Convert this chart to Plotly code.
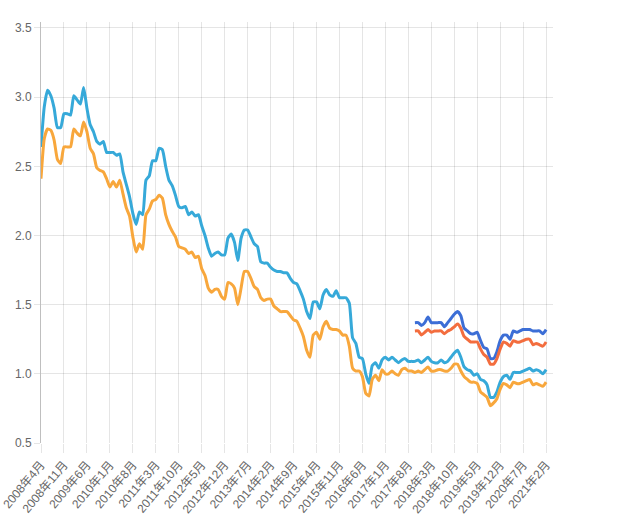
import plotly.graph_objects as go

# monthly categories 2008年4月 .. 2021年2月
months = []
y, m = 2008, 4
while (y, m) <= (2021, 2):
    months.append(f"{y}年{m}月")
    m += 1
    if m > 12:
        m = 1
        y += 1

tick_labels = months[::7]

series_a = [2.64, 2.93, 3.05, 3.01, 2.92, 2.78, 2.78, 2.88, 2.88, 2.87,
            3.01, 2.98, 2.95, 3.07, 2.92, 2.80, 2.75, 2.68, 2.66, 2.68,
            2.60, 2.60, 2.60, 2.58, 2.59, 2.46, 2.37, 2.28, 2.16, 2.08,
            2.17, 2.15, 2.40, 2.43, 2.54, 2.54, 2.63, 2.62, 2.50, 2.40,
            2.36, 2.29, 2.21, 2.20, 2.21, 2.15, 2.17, 2.14, 2.15, 2.07,
            2.00, 1.91, 1.85, 1.87, 1.88, 1.86, 1.86, 1.98, 2.01, 1.95,
            1.82, 1.98, 2.04, 2.04, 1.99, 1.94, 1.92, 1.81, 1.80, 1.80,
            1.77, 1.75, 1.74, 1.74, 1.73, 1.73, 1.69, 1.66, 1.65, 1.60,
            1.54, 1.45, 1.40, 1.52, 1.52, 1.47, 1.57, 1.61, 1.57, 1.56,
            1.60, 1.55, 1.55, 1.55, 1.51, 1.26, 1.22, 1.12, 1.11, 1.00,
            0.93, 1.06, 1.08, 1.04, 1.10, 1.12, 1.10, 1.12, 1.10, 1.08,
            1.10, 1.11, 1.09, 1.09, 1.09, 1.10, 1.08, 1.10, 1.12, 1.09,
            1.08, 1.08, 1.10, 1.08, 1.09, 1.12, 1.15, 1.17, 1.12, 1.05,
            1.03, 1.02, 0.99, 1.00, 0.96, 0.95, 0.92, 0.83, 0.83, 0.87,
            0.94, 0.98, 0.99, 0.96, 1.01, 1.01, 1.01, 1.02, 1.03, 1.04,
            1.02, 1.03, 1.02, 1.00, 1.03]

series_b = [2.41, 2.70, 2.77, 2.76, 2.69, 2.55, 2.52, 2.64, 2.64, 2.64,
            2.77, 2.74, 2.72, 2.82, 2.75, 2.63, 2.59, 2.49, 2.47, 2.46,
            2.41, 2.35, 2.39, 2.35, 2.40, 2.30, 2.20, 2.14, 1.99, 1.88,
            1.94, 1.90, 2.15, 2.19, 2.25, 2.26, 2.29, 2.27, 2.15, 2.08,
            2.03, 1.99, 1.92, 1.91, 1.90, 1.87, 1.88, 1.84, 1.85, 1.76,
            1.71, 1.62, 1.59, 1.61, 1.61, 1.56, 1.54, 1.66, 1.65, 1.62,
            1.50, 1.62, 1.74, 1.74, 1.69, 1.63, 1.61, 1.55, 1.53, 1.54,
            1.54, 1.49, 1.47, 1.45, 1.45, 1.45, 1.42, 1.39, 1.38, 1.33,
            1.27, 1.17, 1.12, 1.28, 1.30, 1.25, 1.34, 1.38, 1.33, 1.32,
            1.32, 1.31, 1.28, 1.28, 1.20, 1.04, 1.02, 1.02, 0.98, 0.86,
            0.84, 0.96, 0.99, 0.95, 1.03, 1.00, 1.00, 1.02, 1.00, 0.99,
            1.03, 1.04, 1.02, 1.02, 1.01, 1.02, 1.01, 1.03, 1.05, 1.02,
            1.02, 1.03, 1.03, 1.02, 1.02, 1.04, 1.07, 1.07, 1.02, 0.98,
            0.96, 0.94, 0.94, 0.93, 0.87, 0.85, 0.83, 0.77, 0.79, 0.82,
            0.89, 0.93, 0.92, 0.90, 0.94, 0.93, 0.93, 0.94, 0.95, 0.96,
            0.92, 0.93, 0.92, 0.91, 0.94]

# series starting at 2018年2月 (index 114)
late_start = 114
series_c = [1.37, 1.37, 1.35, 1.37, 1.41, 1.37, 1.37, 1.37, 1.37, 1.34,
            1.37, 1.40, 1.43, 1.45, 1.42, 1.33, 1.31, 1.29, 1.29, 1.30,
            1.24, 1.19, 1.18, 1.11, 1.11, 1.16, 1.24, 1.28, 1.28, 1.25,
            1.31, 1.30, 1.31, 1.32, 1.32, 1.32, 1.31, 1.31, 1.31, 1.29,
            1.32]

series_d = [1.31, 1.31, 1.28, 1.30, 1.32, 1.30, 1.31, 1.31, 1.31, 1.29,
            1.31, 1.32, 1.34, 1.36, 1.33, 1.27, 1.25, 1.23, 1.23, 1.23,
            1.18, 1.14, 1.12, 1.07, 1.07, 1.11, 1.18, 1.23, 1.22, 1.20,
            1.24, 1.23, 1.23, 1.24, 1.25, 1.25, 1.21, 1.22, 1.21, 1.20,
            1.23]

late_months = months[late_start:late_start + len(series_c)]

font_family = "Liberation Sans, Arial, Noto Sans CJK SC, sans-serif"

fig = go.Figure()

def add_line(xs, ys, color):
    fig.add_trace(go.Scatter(
        x=xs, y=ys, mode="lines",
        line=dict(color=color, width=3, shape="spline", smoothing=0.5),
        hoverinfo="x+y", showlegend=False,
    ))

add_line(months, series_a, "#36a9d9")
add_line(months, series_b, "#f8a73c")
add_line(late_months, series_c, "#3c6ed6")
add_line(late_months, series_d, "#f36d3e")

fig.update_layout(
    width=618, height=522,
    margin=dict(l=41, r=65, t=22, b=79),
    paper_bgcolor="white", plot_bgcolor="white",
    font=dict(family=font_family, size=12, color="#666666"),
    showlegend=False,
)

fig.update_xaxes(
    type="category",
    categoryorder="array", categoryarray=months,
    range=[0, 156.1],
    tickmode="array", tickvals=tick_labels, ticktext=tick_labels,
    tickangle=-50,
    automargin=False,
    showgrid=True, gridcolor="rgba(0,0,0,0.1)", gridwidth=1,
    ticks="outside", ticklen=9, tickcolor="rgba(0,0,0,0.1)",
    showline=False, zeroline=False,
    tickfont=dict(size=12, color="#666666"),
)

fig.update_yaxes(
    range=[0.5, 3.543],
    tickmode="array", tickvals=[0.5, 1.0, 1.5, 2.0, 2.5, 3.0, 3.5],
    ticktext=["0.5", "1.0", "1.5", "2.0", "2.5", "3.0", "3.5"],
    automargin=False,
    showgrid=True, gridcolor="rgba(0,0,0,0.1)", gridwidth=1,
    ticks="outside", ticklen=6, tickcolor="rgba(0,0,0,0.1)",
    showline=True, linecolor="rgba(0,0,0,0.25)", linewidth=1,
    zeroline=False,
    tickfont=dict(size=12, color="#666666"),
)

fig.write_html("out.html")
